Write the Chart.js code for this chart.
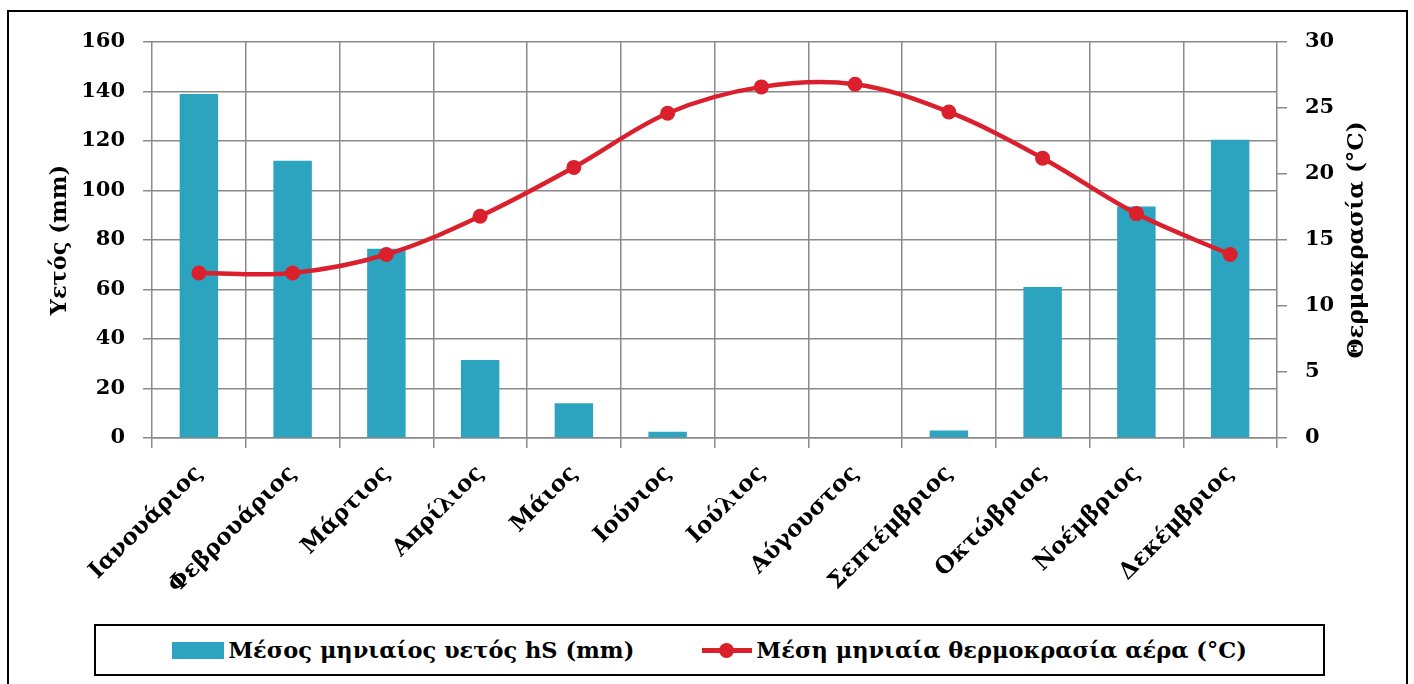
<!DOCTYPE html>
<html lang="el">
<head>
<meta charset="utf-8">
<title>Ομβροθερμικό διάγραμμα</title>
<script src="https://cdn.jsdelivr.net/npm/chart.js@4.4.1/dist/chart.umd.min.js"></script>
<style>
    html, body { margin: 0; padding: 0; background: #fff; }
    #wrap { position: relative; width: 1414px; height: 684px; overflow: hidden; }
    #frame { position: absolute; left: 7px; top: 10px; width: 1401px; height: 700px; border: 2px solid #000; box-sizing: border-box; }
    #chart { position: absolute; left: 0; top: 0; }
    #legend {
        position: absolute; left: 94px; top: 624px; width: 1231px; height: 52px;
        border: 2px solid #000; box-sizing: border-box; background: #fff;
        display: flex; align-items: center; justify-content: center;
        font-family: 'DejaVu Serif', serif; font-weight: bold; font-size: 22.5px; color: #000;
    }
    .item { display: flex; align-items: center; }
    .item + .item { margin-left: 68px; }
    .box { width: 52px; height: 17px; background: #2ca3bf; margin-right: 4px; }
    .ln { position: relative; width: 50px; height: 5px; background: #d9202c; margin-right: 4px; }
    .ln::after { content: ""; position: absolute; left: 17px; top: -5px; width: 15px; height: 15px; border-radius: 50%; background: #d9202c; }
</style>
</head>
<body>
<div id="wrap">
    <div id="frame"></div>
    <canvas id="chart" width="1414" height="684"></canvas>
    <div id="legend"></div>
</div>
<script>
    // values
    var months = ["Ιανουάριος", "Φεβρουάριος", "Μάρτιος", "Απρίλιος", "Μάιος", "Ιούνιος",
        "Ιούλιος", "Αύγουστος", "Σεπτέμβριος", "Οκτώβριος", "Νοέμβριος", "Δεκέμβριος"];
    var rain = [139, 112, 76.5, 31.5, 14, 2.5, 0, 0, 3, 61, 93.5, 120.5];
    var temp = [12.5, 12.5, 13.9, 16.8, 20.5, 24.6, 26.6, 26.8, 24.7, 21.2, 17.0, 13.9];

    var rainLabel = "Μέσος μηνιαίος υετός hS (mm)";
    var tempLabel = "Μέση μηνιαία θερμοκρασία αέρα (°C)";
    var rainAxisTitle = "Υετός (mm)";
    var tempAxisTitle = "Θερμοκρασία (°C)";

    var FONT = "'DejaVu Serif', serif";
    var GRID = "#8a8a8a";
    var TEAL = "#2ca3bf";
    var RED = "#d9202c";

    // legend in html, boxed like the original
    var legend = document.getElementById("legend");
    legend.innerHTML =
        '<div class="item"><span class="box"></span><span>' + rainLabel + '</span></div>' +
        '<div class="item"><span class="ln"></span><span>' + tempLabel + '</span></div>';

    // right axis title reads bottom-to-top, chart.js draws it the other way
    var rightTitle = {
        id: "rightTitle",
        afterDraw: function (chart) {
            var ctx = chart.ctx;
            var area = chart.chartArea;
            ctx.save();
            ctx.translate(1357, (area.top + area.bottom) / 2);
            ctx.rotate(-Math.PI / 2);
            ctx.font = "bold 23px " + FONT;
            ctx.fillStyle = "#000";
            ctx.textAlign = "center";
            ctx.textBaseline = "middle";
            ctx.fillText(tempAxisTitle, 0, 0);
            ctx.restore();
        }
    };

    new Chart(document.getElementById("chart"), {
        type: "bar",
        data: {
            labels: months,
            datasets: [{
                type: "bar",
                label: rainLabel,
                data: rain,
                yAxisID: "y",
                backgroundColor: TEAL,
                barPercentage: 0.41,
                categoryPercentage: 1,
                order: 2
            }, {
                type: "line",
                label: tempLabel,
                data: temp,
                yAxisID: "y1",
                borderColor: RED,
                backgroundColor: RED,
                borderWidth: 4.5,
                pointRadius: 7.5,
                pointBorderWidth: 0,
                pointBackgroundColor: RED,
                tension: 0.35,
                order: 1
            }]
        },
        options: {
            responsive: false,
            animation: false,
            layout: { padding: { top: 42, left: 0, right: 0, bottom: 0 } },
            plugins: {
                legend: { display: false },
                tooltip: { enabled: false }
            },
            scales: {
                x: {
                    offset: true,
                    grid: { color: GRID, lineWidth: 1.5, offset: true, tickLength: 10 },
                    border: { color: GRID, width: 1.5 },
                    ticks: {
                        color: "#000", font: { family: FONT, weight: "bold", size: 23 },
                        minRotation: 45, maxRotation: 45, padding: 12, autoSkip: false
                    },
                    afterFit: function (scale) { scale.height = 246; }
                },
                y: {
                    position: "left",
                    min: 0, max: 160,
                    grid: { color: GRID, lineWidth: 1.5, tickLength: 9 },
                    border: { display: false },
                    ticks: { stepSize: 20, color: "#000", padding: 18, font: { family: FONT, weight: "bold", size: 21 } },
                    title: {
                        display: true, text: rainAxisTitle, color: "#000",
                        font: { family: FONT, weight: "bold", size: 22.5 },
                        padding: { top: 47, bottom: 0 }
                    },
                    afterFit: function (scale) { scale.width = 152; }
                },
                y1: {
                    position: "right",
                    min: 0, max: 30,
                    grid: { drawOnChartArea: false, color: GRID, lineWidth: 1.5, tickLength: 10 },
                    border: { display: false },
                    ticks: { stepSize: 5, color: "#000", padding: 18, font: { family: FONT, weight: "bold", size: 21 } },
                    afterFit: function (scale) { scale.width = 137; }
                }
            }
        },
        plugins: [rightTitle]
    });
</script>
</body>
</html>
